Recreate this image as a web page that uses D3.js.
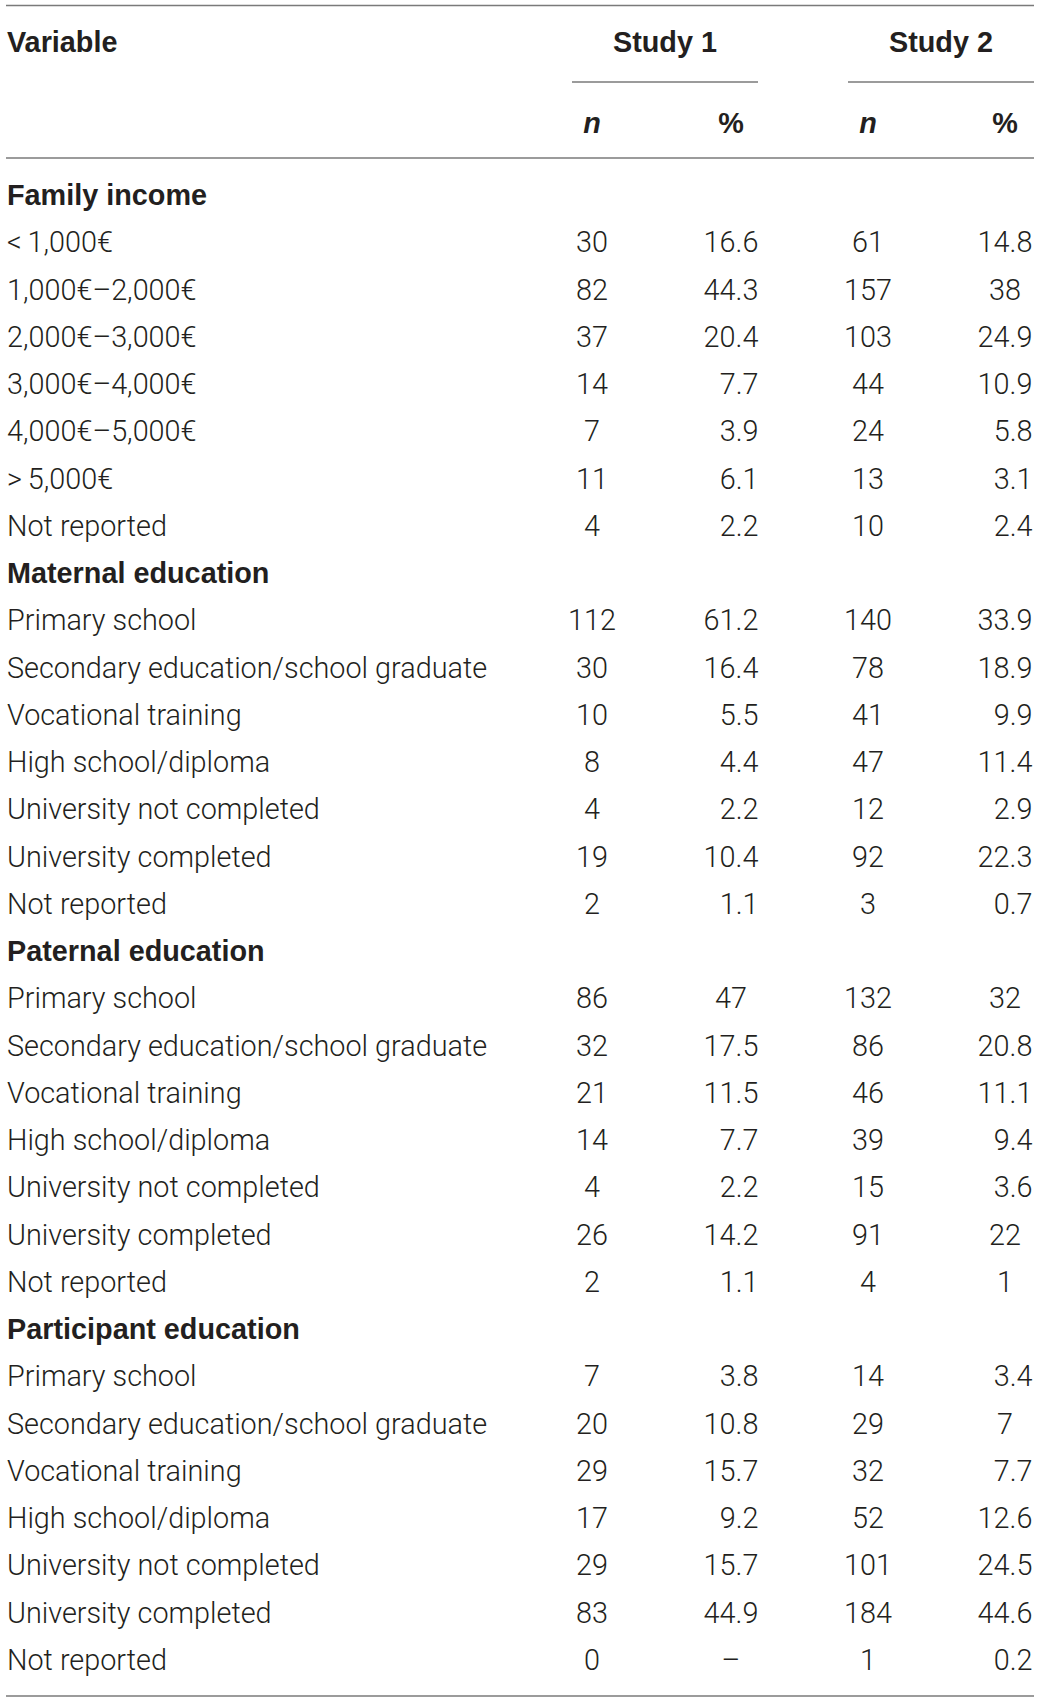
<!DOCTYPE html>
<html>
<head>
<meta charset="utf-8">
<script src="https://cdn.jsdelivr.net/npm/d3@7"></script>
<style>
  body { margin: 0; background: #fff; }
  .txt { font-family: "Roboto", "Liberation Sans", sans-serif; font-weight: 300; fill: #231f20; }
  .bold { font-family: "Liberation Sans", "Roboto", sans-serif; font-weight: 700; fill: #231f20; }
</style>
</head>
<body>
<div id="table"></div>
<script>
// table data
var sections = ["Family income", "Maternal education", "Paternal education", "Participant education"]
var incomeLabels = ["<\u20091,000€", "1,000€–2,000€", "2,000€–3,000€", "3,000€–4,000€", "4,000€–5,000€", ">\u20095,000€", "Not reported"]
var eduLabels = ["Primary school", "Secondary education/school graduate", "Vocational training", "High school/diploma",
                 "University not completed", "University completed", "Not reported"]

var study1N = [
  [30, 82, 37, 14, 7, 11, 4],
  [112, 30, 10, 8, 4, 19, 2],
  [86, 32, 21, 14, 4, 26, 2],
  [7, 20, 29, 17, 29, 83, 0]
]
var study1P = [
  ["16.6", "44.3", "20.4", "7.7", "3.9", "6.1", "2.2"],
  ["61.2", "16.4", "5.5", "4.4", "2.2", "10.4", "1.1"],
  ["47", "17.5", "11.5", "7.7", "2.2", "14.2", "1.1"],
  ["3.8", "10.8", "15.7", "9.2", "15.7", "44.9", "–"]
]
var study2N = [
  [61, 157, 103, 44, 24, 13, 10],
  [140, 78, 41, 47, 12, 92, 3],
  [132, 86, 46, 39, 15, 91, 4],
  [14, 29, 32, 52, 101, 184, 1]
]
var study2P = [
  ["14.8", "38", "24.9", "10.9", "5.8", "3.1", "2.4"],
  ["33.9", "18.9", "9.9", "11.4", "2.9", "22.3", "0.7"],
  ["32", "20.8", "11.1", "9.4", "3.6", "22", "1"],
  ["3.4", "7", "7.7", "12.6", "24.5", "44.6", "0.2"]
]

var w_width = 1040, w_height = 1702
var fontSize = 28.8
var lineColor = "#7a7a7a"

var svg = d3.select('#table').append('svg')
  .attr('width', w_width)
  .attr('height', w_height)

// build the row list: a section header then its rows
var rows = []
sections.forEach(function(s, si) {
  rows.push({type: 'head', label: s})
  var labels = si == 0 ? incomeLabels : eduLabels
  labels.forEach(function(l, i) {
    rows.push({type: 'row', label: l, vals: [study1N[si][i], study1P[si][i], study2N[si][i], study2P[si][i]]})
  })
})

// baselines of body rows
var y = d3.scaleLinear().domain([0, rows.length - 1]).range([205, 1670])
// column centres
var x = d3.scaleOrdinal().domain(["n1", "p1", "n2", "p2"]).range([592, 731, 868, 1005])
var cols = x.domain()

function hline(x1, x2, yy) {
  svg.append('line')
    .attr('x1', x1).attr('x2', x2).attr('y1', yy).attr('y2', yy)
    .attr('stroke', lineColor).attr('stroke-width', 1.4)
}

hline(6, 1034, 5.5)
hline(572, 758, 82)
hline(848, 1034, 82)
hline(6, 1034, 158)
hline(6, 1034, 1696)

// header
svg.append('text').attr('class', 'bold').attr('x', 7).attr('y', 52)
  .style('font-size', fontSize + 'px').text('Variable')
svg.append('text').attr('class', 'bold').attr('x', 665).attr('y', 52)
  .attr('text-anchor', 'middle').style('font-size', fontSize + 'px').text('Study 1')
svg.append('text').attr('class', 'bold').attr('x', 941).attr('y', 52)
  .attr('text-anchor', 'middle').style('font-size', fontSize + 'px').text('Study 2')

svg.selectAll('.sub').data(cols).enter().append('text')
  .attr('class', 'bold sub')
  .attr('x', function(d) { return x(d) })
  .attr('y', 133)
  .attr('text-anchor', 'middle')
  .style('font-size', fontSize + 'px')
  .style('font-style', function(d) { return d[0] == 'n' ? 'italic' : 'normal' })
  .text(function(d) { return d[0] == 'n' ? 'n' : '%' })

// body
var rowG = svg.selectAll('.rowG').data(rows).enter().append('g')
  .attr('class', 'rowG')
  .attr('transform', function(d, i) { return 'translate(0,' + y(i) + ')' })

rowG.append('text')
  .attr('class', function(d) { return d.type == 'head' ? 'bold' : 'txt' })
  .attr('x', 7)
  .style('font-size', fontSize + 'px')
  .text(function(d) { return d.label })

// pad one-digit decimals with a figure space so decimals line up
function fmt(v) {
  var s = String(v)
  if (s.indexOf('.') == 1) s = '\u2007' + s
  return s
}

rowG.filter(function(d) { return d.type == 'row' })
  .selectAll('.val').data(function(d) { return d.vals })
  .enter().append('text')
  .attr('class', 'txt val')
  .attr('x', function(d, i) { return x(cols[i]) })
  .attr('text-anchor', 'middle')
  .style('font-size', fontSize + 'px')
  .text(function(d) { return fmt(d) })
</script>
</body>
</html>
